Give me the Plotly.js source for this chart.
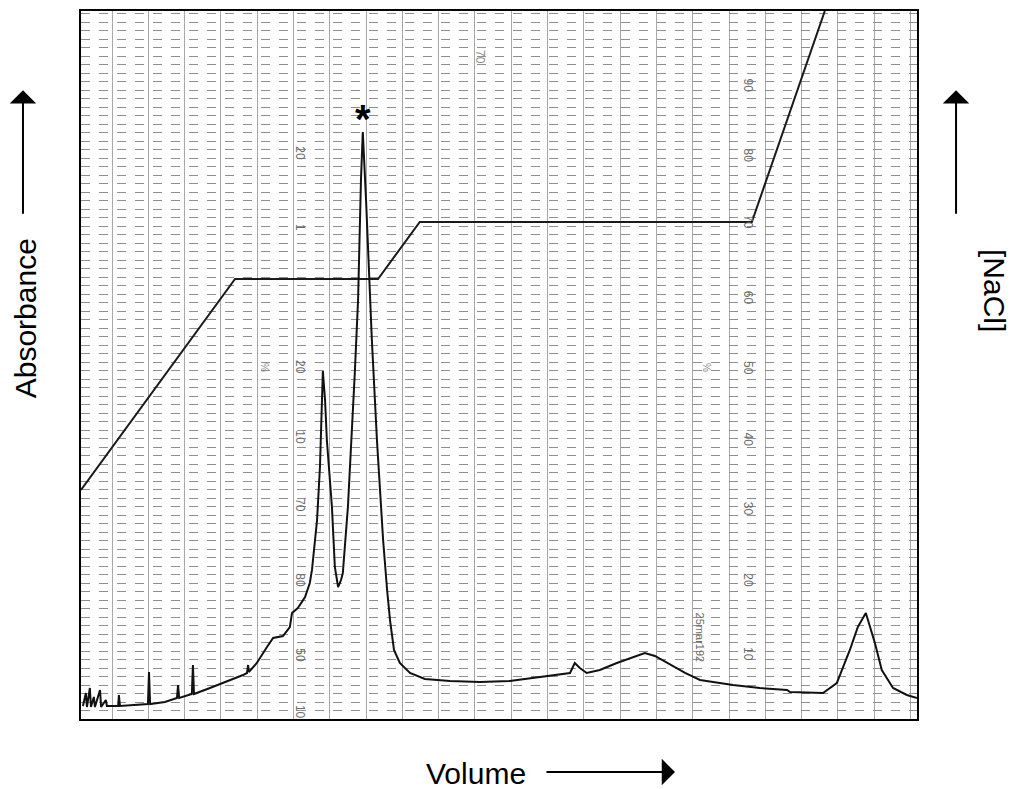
<!DOCTYPE html>
<html>
<head>
<meta charset="utf-8">
<script src="https://cdn.plot.ly/plotly-3.0.1.min.js"></script>
<style>
  html, body { margin: 0; padding: 0; background: #ffffff; }
  #chart { width: 1013px; height: 789px; }
</style>
</head>
<body>
<div id="chart"></div>
<script>
// ---- Absorbance trace (volume in chart-paper divisions, absorbance in % of full scale)
var volume = [
  -0.80,-0.72,-0.69,-0.61,-0.58,-0.50,-0.47,-0.33,-0.30,-0.17,-0.14,0.17,0.19,0.22,
  0.99,1.02,1.05,1.46,1.79,1.82,1.85,2.20,2.23,2.26,2.70,3.06,3.61,3.72,3.75,3.77,
  3.99,4.27,4.44,4.71,4.90,4.96,5.12,5.32,5.45,5.51,5.56,5.65,5.73,5.79,5.81,5.87,
  5.92,6.06,6.14,6.23,6.31,6.36,6.50,6.69,6.78,6.86,6.91,7.00,7.08,7.16,7.30,7.47,
  7.58,7.66,7.77,7.93,8.21,8.62,9.31,10.14,10.96,11.79,12.34,12.62,12.75,12.89,13.08,
  13.44,13.91,14.27,14.68,14.96,15.29,15.79,16.20,17.11,17.85,18.60,18.68,19.59,19.97,
  20.33,20.55,20.77,21.02,21.21,21.52,21.90,22.18
];
var absorbance = [
  1.84,3.67,1.69,4.38,1.69,3.11,1.69,4.10,1.69,2.68,1.84,1.84,3.39,1.84,
  2.12,6.64,2.12,2.40,2.97,4.80,2.97,3.53,7.63,3.53,4.38,5.08,6.21,6.50,7.63,6.64,
  7.91,10.17,11.44,11.72,12.99,14.97,15.68,17.23,19.21,21.05,23.87,28.11,35.59,45.06,49.15,45.06,
  39.41,29.94,21.47,18.64,19.63,20.62,29.94,48.87,59.18,76.13,82.91,73.31,62.01,53.53,39.41,25.28,
  18.22,13.98,9.75,7.91,6.50,5.65,5.37,5.23,5.37,5.93,6.36,6.50,7.91,7.20,6.50,
  6.92,7.91,8.62,9.32,8.90,7.91,6.50,5.51,4.80,4.38,4.10,3.81,3.67,5.08,
  9.75,12.99,14.97,10.73,6.92,4.38,3.39,2.97
];

// ---- NaCl step gradient
var naclVolume = [-0.854, 3.39, 7.33, 8.48, 17.63, 19.64];
var naclConc   = [32.34, 62.15, 62.15, 70.20, 70.20, 100.0];

// ---- peak marker
var markerVolume = [6.91];
var markerAbs = [82.91];
var markerText = ['*'];

// ---- printed chart-paper scale numbers
var paperRightVals = ['90','80','70','60','50','40','30','20','10'];
var paperRightY    = [89.5, 79.6, 70.2, 59.5, 49.6, 39.5, 29.7, 19.6, 9.2];
var paperLeftVals  = ['20','1','20','10','70','80','50','10'];
var paperLeftY     = [79.9, 69.5, 49.7, 39.8, 30.2, 19.6, 9.0, 1.0];

// ---- axis words
var xLabel = 'Volume';
var yLabel = 'Absorbance';
var y2Label = '[NaCl]';

var ann = [];
var small = function (sz, col) { return {family: 'Liberation Sans, Arial', size: sz, color: col}; };
for (var i = 0; i < paperRightVals.length; i++) {
  ann.push({x: 17.52, y: paperRightY[i], xref: 'x', yref: 'y', text: paperRightVals[i],
    showarrow: false, textangle: 90, font: small(12, '#6b6b6b')});
}
for (var j = 0; j < paperLeftVals.length; j++) {
  ann.push({x: 5.18, y: paperLeftY[j], xref: 'x', yref: 'y', text: paperLeftVals[j],
    showarrow: false, textangle: 90, font: small(12, '#6b6b6b')});
}
ann.push({x: 10.14, y: 93.5, xref: 'x', yref: 'y', text: '70', showarrow: false, textangle: 90, font: small(12, '#8a8a8a')});
ann.push({x: 4.22, y: 49.7, xref: 'x', yref: 'y', text: '%', showarrow: false, textangle: 90, font: small(10, '#8a8a8a')});
ann.push({x: 16.4, y: 49.7, xref: 'x', yref: 'y', text: '%', showarrow: false, textangle: 90, font: small(10, '#8a8a8a')});
ann.push({x: 16.2, y: 11.5, xref: 'x', yref: 'y', text: '25mar192', showarrow: false, textangle: 90, font: small(11, '#6b6b6b')});

// peak asterisk
ann.push({x: markerVolume[0], y: markerAbs[0], xref: 'x', yref: 'y', text: '<b>' + markerText[0] + '</b>',
  showarrow: false, xanchor: 'center', yanchor: 'bottom', yshift: -11,
  font: {family: 'Liberation Sans, Arial', size: 40, color: '#000'}});

// axis words and arrows
var lab = {family: 'Liberation Sans, Arial', size: 30, color: '#000'};
ann.push({x: -0.067, y: 0.566, xref: 'paper', yref: 'paper', text: yLabel, textangle: -90, showarrow: false,
  xanchor: 'center', yanchor: 'middle', font: lab});
ann.push({x: 1.0933, y: 0.6045, xref: 'paper', yref: 'paper', text: y2Label, textangle: 90, showarrow: false,
  xanchor: 'center', yanchor: 'middle', font: lab});
ann.push({x: 0.4725, y: -0.0763, xref: 'paper', yref: 'paper', text: xLabel, showarrow: false,
  xanchor: 'center', yanchor: 'middle', font: lab});
var arrowStyle = {showarrow: true, arrowhead: 1, arrowsize: 2.2, arrowwidth: 2, arrowcolor: '#000', text: '', standoff: 0};
ann.push(Object.assign({x: -0.0694, y: 0.888, xref: 'paper', yref: 'paper', ax: 0, ay: 125}, arrowStyle));
ann.push(Object.assign({x: 1.0467, y: 0.888, xref: 'paper', yref: 'paper', ax: 0, ay: 125}, arrowStyle));
ann.push(Object.assign({x: 0.7105, y: -0.0749, xref: 'paper', yref: 'paper', ax: -130, ay: 0}, arrowStyle));

var traces = [
  {x: naclVolume, y: naclConc, mode: 'lines', line: {color: '#1a1a1a', width: 2}, hoverinfo: 'skip', name: 'NaCl'},
  {x: volume, y: absorbance, mode: 'lines', line: {color: '#111', width: 2}, hoverinfo: 'skip', name: 'Absorbance'}
];

var layout = {
  width: 1013, height: 789,
  margin: {l: 81, r: 96, t: 11, b: 70},
  paper_bgcolor: '#ffffff', plot_bgcolor: '#ffffff',
  showlegend: false,
  xaxis: {range: [-0.854, 22.18], tick0: 0, dtick: 1, showgrid: true, gridcolor: '#a8a8a8', gridwidth: 1,
    zeroline: false, showticklabels: false, ticks: '', showline: true, mirror: true, linecolor: '#000', linewidth: 2,
    title: {text: ''}},
  yaxis: {range: [0, 100], tick0: 0, dtick: 1.2, showgrid: true, gridcolor: '#8f8f8f', gridwidth: 1, griddash: 'dash',
    zeroline: false, showticklabels: false, ticks: '', showline: true, mirror: true, linecolor: '#000', linewidth: 2,
    title: {text: ''}},
  annotations: ann
};

Plotly.newPlot('chart', traces, layout, {staticPlot: true, displayModeBar: false});
</script>
</body>
</html>
